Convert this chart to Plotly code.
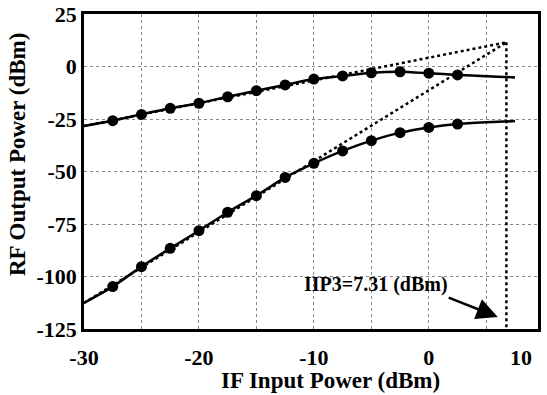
import plotly.graph_objects as go

# Data
x_line = [-30, -27.5, -25, -22.5, -20, -17.5, -15, -12.5, -10, -7.5, -5, -2.5, 0, 2.5, 5, 7.5]
fund = [-28.3, -25.8, -22.8, -19.9, -17.5, -14.4, -11.5, -8.8, -6.0, -4.5, -3.0, -2.5, -3.2, -4.0, -4.6, -5.2]
im3 = [-112.6, -104.8, -95.3, -86.6, -78.2, -69.4, -61.5, -52.8, -46.1, -40.2, -35.3, -31.5, -29.0, -27.4, -26.6, -26.0]
marker_x = [-27.5, -25, -22.5, -20, -17.5, -15, -12.5, -10, -7.5, -5, -2.5, 0, 2.5]

# Extrapolated lines and intercept
fund_ext_x = [-30, 6.75]
fund_ext_y = [-28.3, 11.5]
im3_ext_x = [-30, 6.75]
im3_ext_y = [-112.6, 11.5]
iip3_x = [6.75, 6.75]
iip3_y = [11.5, -125]

x_ticks = [-30, -25, -20, -15, -10, -5, 0, 5]
x_ticktext = ["-30", "", "-20", "", "-10", "", "0", ""]
y_ticks = [-125, -100, -75, -50, -25, 0, 25]

FONT = "Liberation Serif"

fig = go.Figure()

dot = dict(color="black", width=2.5, dash="dot")
fig.add_trace(go.Scatter(x=fund_ext_x, y=fund_ext_y, mode="lines", line=dot))
fig.add_trace(go.Scatter(x=im3_ext_x, y=im3_ext_y, mode="lines", line=dot))
fig.add_trace(go.Scatter(x=iip3_x, y=iip3_y, mode="lines", line=dot))

solid = dict(color="black", width=2.5, shape="spline", smoothing=0.6)
fig.add_trace(go.Scatter(x=x_line, y=fund, mode="lines", line=solid))
fig.add_trace(go.Scatter(x=x_line, y=im3, mode="lines", line=solid))

mfund = [fund[x_line.index(v)] for v in marker_x]
mim3 = [im3[x_line.index(v)] for v in marker_x]
fig.add_trace(go.Scatter(x=marker_x, y=mfund, mode="markers",
                         marker=dict(color="black", size=11)))
fig.add_trace(go.Scatter(x=marker_x, y=mim3, mode="markers",
                         marker=dict(color="black", size=11)))

fig.add_annotation(x=-4.6, y=-103.6, text="<b>IIP3=7.31 (dBm)</b>", showarrow=False,
                   font=dict(family=FONT, size=20, color="black"))
fig.add_annotation(x=6.0, y=-119.3, ax=1.6, ay=-109.8, axref="x", ayref="y",
                   text="", showarrow=True, arrowhead=2, arrowsize=1.7,
                   arrowwidth=2.5, arrowcolor="black")
fig.add_annotation(x=1, xref="paper", y=0, yref="paper", yanchor="top", yshift=-14,
                   xshift=-4, text="<b>10</b>", showarrow=False,
                   font=dict(family=FONT, size=22, color="black"))
# axis titles (positions relative to the plot area: 84..538 x 14..329 px)
fig.add_annotation(x=(330.5 - 84) / 454, xref="paper", y=(329 - 380) / 315, yref="paper",
                   text="<b>IF Input Power (dBm)</b>", showarrow=False,
                   xanchor="center", yanchor="middle",
                   font=dict(family=FONT, size=23, color="black"))
fig.add_annotation(x=(17 - 84) / 454, xref="paper", y=(329 - 155) / 315, yref="paper",
                   text="<b>RF Output Power (dBm)</b>", showarrow=False, textangle=-90,
                   xanchor="center", yanchor="middle",
                   font=dict(family=FONT, size=23, color="black"))

axis_common = dict(showline=True, linecolor="black", linewidth=2.5, mirror=True,
                   showgrid=True, gridcolor="#888888", gridwidth=1, griddash="dot",
                   zeroline=False, automargin=False, ticklabeloverflow="allow",
                   tickfont=dict(family=FONT, size=22, color="black"))

fig.update_xaxes(range=[-30, 9.5], tickvals=x_ticks,
                 ticktext=[f"<b>{t}</b>" if t else "" for t in x_ticktext],
                 ticks="outside", ticklen=7, tickcolor="rgba(0,0,0,0)",
                 **axis_common)
fig.update_yaxes(range=[-125, 25], tickvals=y_ticks, ticktext=[f"<b>{t}</b>" for t in y_ticks],
                 ticks="", **axis_common)

fig.update_layout(width=547, height=395, margin=dict(l=84, r=9, t=14, b=66),
                  plot_bgcolor="white", paper_bgcolor="white", showlegend=False)

# remove the default page margin so the figure fills the window exactly
fig.write_html("out.html", config={"displayModeBar": False},
               post_script="document.body.style.margin='0';")
